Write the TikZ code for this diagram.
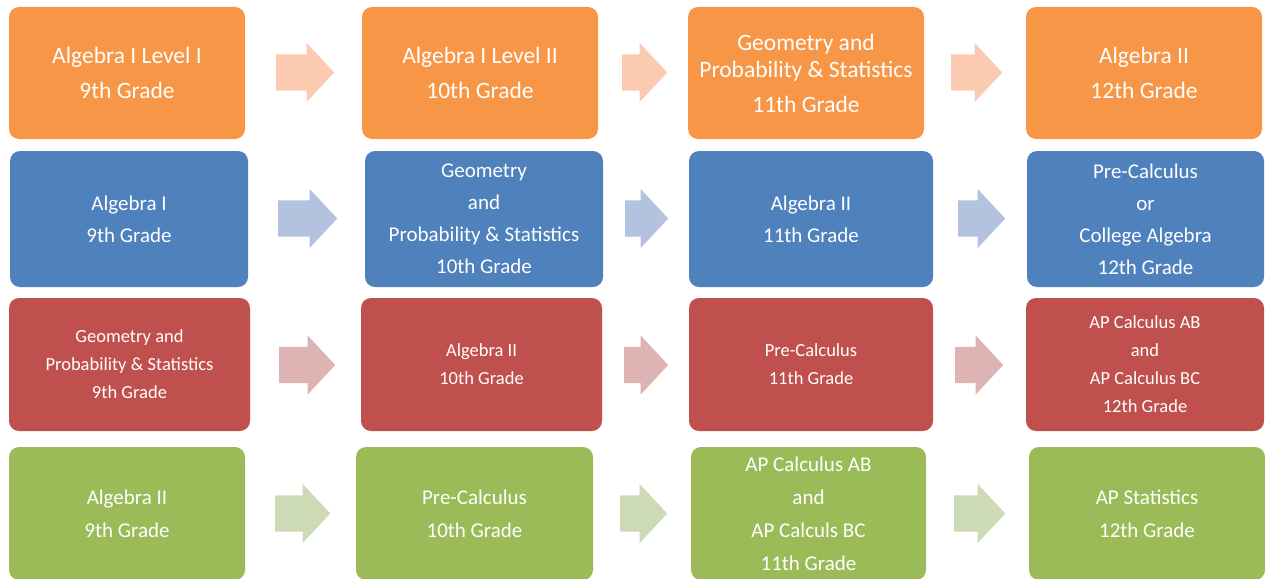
\documentclass[tikz,border=0pt]{standalone}
\usepackage{fontspec}
\setmainfont{Carlito}
\usepackage{tikz}
\usetikzlibrary{shapes.arrows}

\definecolor{corange}{HTML}{F79646}
\definecolor{cblue}{HTML}{4F81BD}
\definecolor{cred}{HTML}{C0504D}
\definecolor{cgreen}{HTML}{9BBB59}
\definecolor{corangelt}{HTML}{FBCAB0}
\definecolor{cbluelt}{HTML}{B3C2DE}
\definecolor{credlt}{HTML}{DDB3B3}
\definecolor{cgreenlt}{HTML}{CDDAB6}

\begin{document}
\begin{tikzpicture}[
  x=1pt, y=-1pt,
  course/.style={rounded corners=10pt, inner sep=0pt, text=white,
                 align=center, minimum height=132pt},
  obox/.style={course, fill=corange, font=\fontsize{23.5}{35}\selectfont},
  oboxtight/.style={obox, font=\fontsize{23.5}{27}\selectfont},
  bbox/.style={course, fill=cblue, font=\fontsize{21}{32}\selectfont},
  rbox/.style={course, fill=cred, font=\fontsize{18.5}{28}\selectfont},
  gbox/.style={course, fill=cgreen, font=\fontsize{21}{33}\selectfont},
  blockarr/.style={single arrow, anchor=west, inner xsep=0pt, inner ysep=18pt,
                   minimum height=#1, minimum width=59pt,
                   single arrow head extend=11.5pt, single arrow tip angle=94},
  oarr/.style={blockarr=#1, fill=corangelt},
  barr/.style={blockarr=#1, fill=cbluelt},
  rarr/.style={blockarr=#1, fill=credlt},
  garr/.style={blockarr=#1, fill=cgreenlt}
]
\useasboundingbox (0,0) rectangle (1265,578);

% Row 1 - orange
\node[obox, minimum width=236pt] (o1) at (127,73) {Algebra I Level I\\9th Grade};
\node[obox, minimum width=236pt] (o2) at (480,73) {Algebra I Level II\\10th Grade};
\node[oboxtight, minimum width=236pt] (o3) at (806,73)
  {Geometry and\\Probability \& Statistics\\[8pt]11th Grade};
\node[obox, minimum width=236pt] (o4) at (1144,73) {Algebra II\\12th Grade};

% Row 2 - blue
\node[bbox, minimum width=238pt, minimum height=136pt] (b1) at (129,219) {Algebra I\\9th Grade};
\node[bbox, minimum width=238pt, minimum height=136pt] (b2) at (484,219)
  {Geometry\\and\\Probability \& Statistics\\10th Grade};
\node[bbox, minimum width=244pt, minimum height=136pt] (b3) at (811,219) {Algebra II\\11th Grade};
\node[bbox, minimum width=237pt, minimum height=136pt] (b4) at (1145.5,219)
  {Pre-Calculus\\or\\College Algebra\\12th Grade};

% Row 3 - red
\node[rbox, minimum width=241pt, minimum height=133pt] (r1) at (129.5,364.5)
  {Geometry and\\Probability \& Statistics\\9th Grade};
\node[rbox, minimum width=241pt, minimum height=133pt] (r2) at (481.5,364.5) {Algebra II\\10th Grade};
\node[rbox, minimum width=244pt, minimum height=133pt] (r3) at (811,364.5) {Pre-Calculus\\11th Grade};
\node[rbox, minimum width=238pt, minimum height=133pt] (r4) at (1145,364.5)
  {AP Calculus AB\\and\\AP Calculus BC\\12th Grade};

% Row 4 - green (runs off the bottom edge)
\node[gbox, minimum width=236pt, minimum height=133pt] (g1) at (127,513.5) {Algebra II\\9th Grade};
\node[gbox, minimum width=237pt, minimum height=133pt] (g2) at (474.5,513.5) {Pre-Calculus\\10th Grade};
\node[gbox, minimum width=235pt, minimum height=133pt] (g3) at (808.5,513.5)
  {AP Calculus AB\\and\\AP Calculs BC\\11th Grade};
\node[gbox, minimum width=236pt, minimum height=133pt] (g4) at (1147,513.5) {AP Statistics\\12th Grade};

% Block arrows
\node[oarr=58pt] (oa1) at (276,72.5) {};
\node[oarr=45pt] (oa2) at (622,72.5) {};
\node[oarr=51pt] (oa3) at (951,72.5) {};

\node[barr=59pt] (ba1) at (278,218.5) {};
\node[barr=43pt] (ba2) at (625,218.5) {};
\node[barr=47pt] (ba3) at (958,218.5) {};

\node[rarr=56pt] (ra1) at (279,365) {};
\node[rarr=44pt] (ra2) at (624,365) {};
\node[rarr=48pt] (ra3) at (955,365) {};

\node[garr=55pt] (ga1) at (275,513.5) {};
\node[garr=47pt] (ga2) at (620,513.5) {};
\node[garr=51pt] (ga3) at (954,513.5) {};

\end{tikzpicture}
\end{document}
